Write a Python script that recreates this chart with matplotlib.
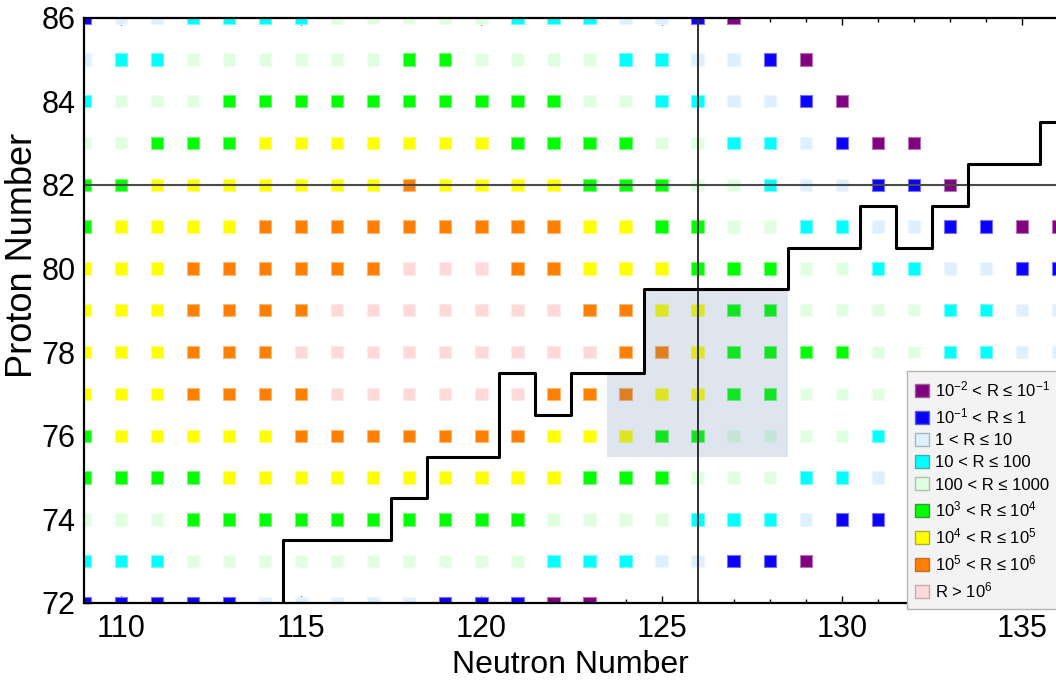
import matplotlib
matplotlib.use("Agg")
import matplotlib.pyplot as plt
from matplotlib.patches import Patch
from matplotlib.ticker import MultipleLocator
import numpy as np

plt.rcParams["font.family"] = ["Liberation Sans", "DejaVu Sans"]
plt.rcParams["mathtext.fontset"] = "custom"
plt.rcParams["mathtext.rm"] = "Liberation Sans"
plt.rcParams["mathtext.it"] = "Liberation Sans:italic"
plt.rcParams["mathtext.bf"] = "Liberation Sans:bold"

# Nuclide grid: one string per proton number, one character per neutron number.
# Digit = ratio class (1..9, see class_labels), '.' = no entry.
neutrons = list(range(109, 137))
protons = list(range(86, 71, -1))
ratio_class_rows = [
    "2334444555554443321.........",  # Z = 86
    "344555555665555443321.......",  # Z = 85
    "4555666666666655443321......",  # Z = 84
    "556667777777666655443211....",  # Z = 83
    "6677777778777766655433221...",  # Z = 82
    "6777788888888877665544332211",  # Z = 81
    "7778888889998877766655443322",  # Z = 80
    "7778888999999988776655554433",  # Z = 79
    "7778889999999998876666554433",  # Z = 78
    "77788889999998887766555.....",  # Z = 77
    "67777788888887776655554.....",  # Z = 76
    "66667777777777666555443.....",  # Z = 75
    "55566666666665555444322.....",  # Z = 74
    "444555555555544433221.......",  # Z = 73
    "222223333322211.............",  # Z = 72
]

class_labels = [
    r"$10^{-2}$ < R ≤ $10^{-1}$",
    r"$10^{-1}$ < R ≤ 1",
    "1 < R ≤ 10",
    "10 < R ≤ 100",
    "100 < R ≤ 1000",
    r"$10^{3}$ < R ≤ $10^{4}$",
    r"$10^{4}$ < R ≤ $10^{5}$",
    r"$10^{5}$ < R ≤ $10^{6}$",
    r"R > $10^{6}$",
]
class_colors = ["#800080", "#0a00ff", "#def0ff", "#00ffff", "#e0ffe0",
                "#00ff00", "#ffff00", "#ff8000", "#ffd9d9"]
class_edges = ["#a060a0", "#6060c0", "#a8b4c4", "#40b0b0", "#a8c4a8",
               "#30a030", "#b0b030", "#c07030", "#c8a8a8"]

# Reference shell closures
magic_n = 126
magic_z = 82

# Staircase boundary (steps-post vertices)
edge_n = [114.5, 114.5, 117.5, 118.5, 120.5, 121.5, 122.5, 124.5,
          128.5, 130.5, 131.5, 132.5, 133.5, 135.5, 137.0]
edge_z = [71.0, 73.5, 74.5, 75.5, 77.5, 76.5, 77.5, 79.5,
          80.5, 81.5, 80.5, 81.5, 82.5, 83.5, 83.5]

# Highlighted region outline
region_n = [123.5, 128.5, 128.5, 124.5, 124.5, 123.5]
region_z = [75.5, 75.5, 79.5, 79.5, 77.5, 77.5]


def lighten(hex_color, amount):
    rgb = np.array(matplotlib.colors.to_rgb(hex_color))
    return tuple(rgb + (1 - rgb) * amount)


W, H = 1056, 687
fig = plt.figure(figsize=(W / 100, H / 100), dpi=100)
ax_left, ax_top, ax_bottom = 84, 17.5, 603
ax = fig.add_axes([ax_left / W, 1 - ax_bottom / H, 1 - ax_left / W,
                   (ax_bottom - ax_top) / H])

xs, ys, fcs, ecs = [], [], [], []
for z, row in zip(protons, ratio_class_rows):
    for n, ch in zip(neutrons, row):
        if ch == ".":
            continue
        k = int(ch) - 1
        xs.append(n)
        ys.append(z)
        fcs.append(class_colors[k])
        ecs.append(lighten(class_colors[k], 0.45))

ax.scatter(xs, ys, s=80, marker="s", c=fcs, edgecolors=ecs,
           linewidths=0.8, zorder=2)

ax.fill(region_n, region_z, facecolor="#5a7fb0", alpha=0.2,
        edgecolor="none", zorder=3)

ax.axhline(magic_z, color="#4a4a4a", lw=1.5, zorder=4)
ax.axvline(magic_n, color="#303030", lw=1.4, zorder=4)

ax.plot(edge_n, edge_z, drawstyle="steps-post", color="black", lw=2.2,
        zorder=5)

ax.set_xlim(108.98, 135.94)
ax.set_ylim(72, 86)

ax.xaxis.set_major_locator(MultipleLocator(5))
ax.xaxis.set_minor_locator(MultipleLocator(1))
ax.yaxis.set_major_locator(MultipleLocator(2))
ax.yaxis.set_minor_locator(MultipleLocator(1))
ax.tick_params(which="both", direction="in", top=True, right=False,
               width=1.0, color="black")
ax.tick_params(which="major", length=5)
ax.tick_params(which="minor", length=3)
ax.tick_params(axis="x", labelsize=22, pad=8)
ax.tick_params(axis="y", labelsize=22, pad=6)

for side in ("left", "bottom", "top"):
    ax.spines[side].set_linewidth(1.6)
    ax.spines[side].set_color("black")
    ax.spines[side].set_zorder(6)
ax.spines["right"].set_visible(False)

ax_w, ax_h = W - ax_left, ax_bottom - ax_top
ax.set_xlabel("Neutron Number", fontsize=23, va="center")
ax.xaxis.set_label_coords(0.5, (ax_bottom - 665) / ax_h)
ax.set_ylabel("Proton Number", fontsize=26, va="center")
ax.yaxis.set_label_coords((23 - ax_left) / ax_w, (ax_bottom - 255) / ax_h)

handles = [Patch(facecolor=c, edgecolor=e, linewidth=1.0)
           for c, e in zip(class_colors, class_edges)]
leg = ax.legend(handles, class_labels, loc="upper left",
                bbox_to_anchor=(907 / W, 1 - 371 / H),
                bbox_transform=fig.transFigure, borderaxespad=0,
                fontsize=12, frameon=True, fancybox=False, framealpha=1,
                facecolor="#f3f3f3", edgecolor="#b4b4b4",
                handlelength=0.8, handleheight=0.8, handletextpad=0.4,
                labelspacing=0.42, borderpad=0.5)
leg.set_zorder(10)
leg.get_frame().set_linewidth(1.0)

fig.savefig("out.png", dpi=100)
